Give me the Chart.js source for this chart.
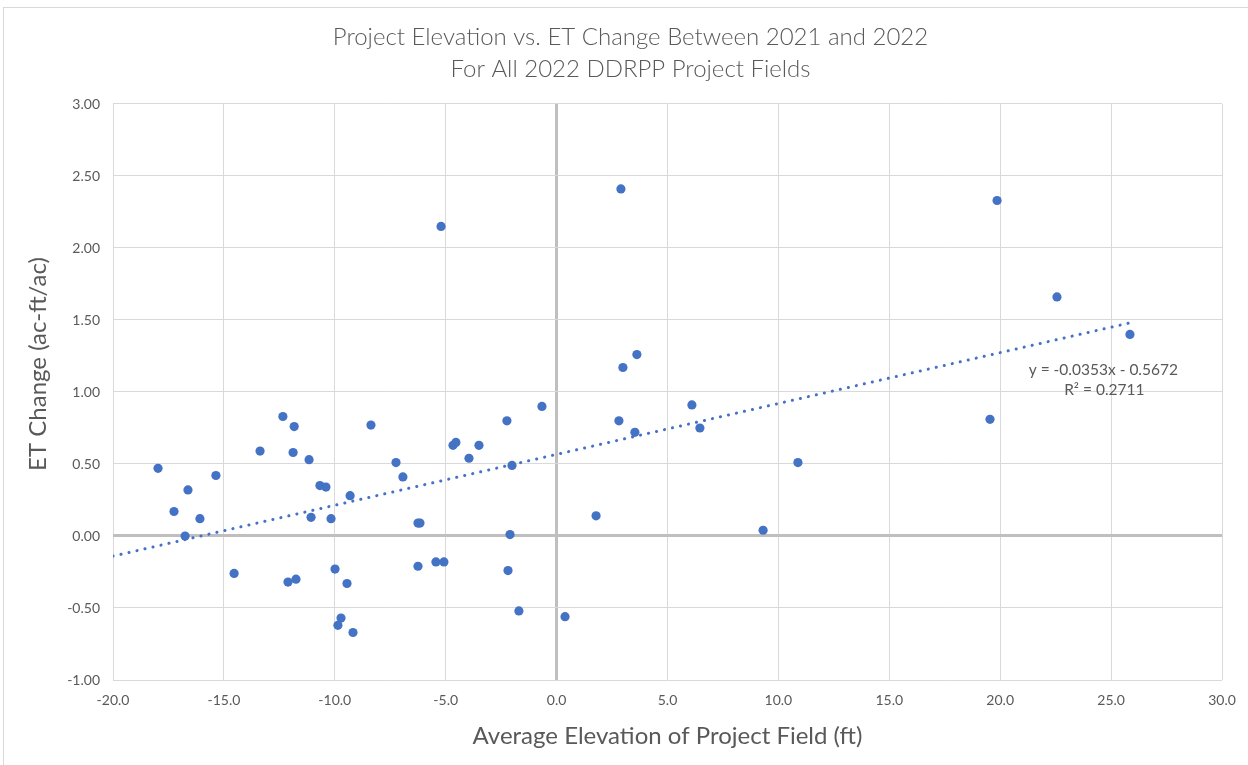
<!DOCTYPE html>
<html>
<head>
<meta charset="utf-8">
<script src="https://cdn.jsdelivr.net/npm/chart.js@4/dist/chart.umd.min.js"></script>
<style>
  html, body { margin: 0; padding: 0; background: #fff; overflow: hidden; }
  #frame { position: absolute; left: 3px; top: 7px; width: 1260px; height: 800px; border: 1px solid #d9d9d9; box-sizing: border-box; }
  #wrap { position: absolute; left: 0; top: 0; width: 1248px; height: 765px; }
</style>
</head>
<body>
<div id="frame"></div>
<div id="wrap"><canvas id="c" width="1248" height="765"></canvas></div>
<script>
const titleLines = ["Project Elevation vs. ET Change Between 2021 and 2022", "For All 2022 DDRPP Project Fields"];
const xAxisTitle = "Average Elevation of Project Field (ft)";
const yAxisTitle = "ET Change (ac-ft/ac)";

// Average elevation (ft)
const elevation = [
  -17.97, -17.25, -16.62, -16.75, -16.08, -15.36, -14.54, -13.37, -12.34, -12.11,
  -11.83, -11.88, -11.75, -11.16, -10.67, -10.40, -11.07, -10.17, -9.31, -9.99,
  -9.45, -9.72, -9.86, -9.18, -8.37, -7.24, -6.93, -6.25, -6.16, -6.25,
  -5.44, -5.08, -5.21, -4.67, -4.54, -3.95, -3.50, -2.24, -2.01, -2.10,
  -2.19, -1.70, -0.66, 0.38, 1.78, 2.90, 2.99, 3.62, 2.81, 3.53,
  6.10, 6.46, 9.31, 10.88, 19.54, 19.86, 22.56, 25.85
];
// ET change (ac-ft/ac)
const etChange = [
  0.47, 0.17, 0.32, 0.00, 0.12, 0.42, -0.26, 0.59, 0.83, -0.32,
  0.76, 0.58, -0.30, 0.53, 0.35, 0.34, 0.13, 0.12, 0.28, -0.23,
  -0.33, -0.57, -0.62, -0.67, 0.77, 0.51, 0.41, 0.09, 0.09, -0.21,
  -0.18, -0.18, 2.15, 0.63, 0.65, 0.54, 0.63, 0.80, 0.49, 0.01,
  -0.24, -0.52, 0.90, -0.56, 0.14, 2.41, 1.17, 1.26, 0.80, 0.72,
  0.91, 0.75, 0.04, 0.51, 0.81, 2.33, 1.66, 1.40
];
// Trendline endpoints as drawn
const trendX = [-20, 25.85];
const trendY = [-0.14, 1.48];
const trendLabel = ["y = -0.0353x - 0.5672", "R\u00b2 = 0.2711"];
const trendLabelAt = [24.65, 1.155];

const xTicks = [-20, -15, -10, -5, 0, 5, 10, 15, 20, 25, 30];
const yTicks = [-1.0, -0.5, 0.0, 0.5, 1.0, 1.5, 2.0, 2.5, 3.0];

const BLUE = '#4472C4';
const TEXT = '#595959';
const FONT = 'Lato, "Open Sans", sans-serif';

const scatterData = elevation.map((x, i) => ({ x: x, y: etChange[i] }));
const trendData = trendX.map((x, i) => ({ x: x, y: trendY[i] }));

const textPlugin = {
  id: 'extraText',
  afterDatasetsDraw(chart) {
    const { ctx, scales } = chart;
    const px = scales.x.getPixelForValue(trendLabelAt[0]);
    const py = scales.y.getPixelForValue(trendLabelAt[1]);
    ctx.save();
    ctx.fillStyle = TEXT;
    ctx.font = '15.5px ' + FONT;
    ctx.textAlign = 'center';
    ctx.textBaseline = 'middle';
    ctx.fillText(trendLabel[0], px, py);
    ctx.fillText(trendLabel[1], px + 1, py + 20);
    ctx.restore();
  },
  afterDraw(chart) {
    const { ctx } = chart;
    ctx.save();
    ctx.fillStyle = TEXT;
    ctx.font = '24px ' + FONT;
    ctx.textAlign = 'center';
    ctx.textBaseline = 'middle';
    ctx.translate(38, 364);
    ctx.rotate(-Math.PI / 2);
    ctx.fillText(yAxisTitle, 0, 0);
    ctx.restore();
  }
};

new Chart(document.getElementById('c'), {
  type: 'scatter',
  data: {
    datasets: [
      {
        label: 'Linear trend',
        type: 'line',
        data: trendData,
        borderColor: BLUE,
        borderWidth: 3,
        borderDash: [0.1, 8.1],
        borderCapStyle: 'round',
        pointRadius: 0,
        fill: false,
        tension: 0,
        order: 0
      },
      {
        label: 'Fields',
        data: scatterData,
        backgroundColor: BLUE,
        borderColor: BLUE,
        borderWidth: 0,
        pointRadius: 4.6,
        pointHoverRadius: 4.6,
        order: 1
      }
    ]
  },
  options: {
    responsive: false,
    animation: false,
    events: [],
    layout: { padding: { left: 39, right: 26, top: 0, bottom: 0 } },
    plugins: {
      legend: { display: false },
      tooltip: { enabled: false },
      title: {
        display: true,
        text: titleLines,
        color: TEXT,
        font: { family: FONT, size: 24, weight: '300', lineHeight: 1.3333 },
        padding: { top: 21, bottom: 19 }
      }
    },
    scales: {
      x: {
        type: 'linear',
        min: -20, max: 30,
        afterBuildTicks(s) { s.ticks = xTicks.map(v => ({ value: v })); },
        afterFit(s) { s.height = 85; },
        border: { display: false },
        grid: {
          drawTicks: false,
          color: ctx => ctx.tick && ctx.tick.value === 0 ? '#bfbfbf' : '#d9d9d9',
          lineWidth: ctx => ctx.tick && ctx.tick.value === 0 ? 3 : 1
        },
        ticks: {
          color: TEXT,
          font: { family: FONT, size: 14 },
          padding: 12,
          maxRotation: 0,
          callback: v => Number(v).toFixed(1)
        },
        title: {
          display: true,
          text: xAxisTitle,
          color: TEXT,
          font: { family: FONT, size: 24 },
          padding: { top: 0, bottom: 14 }
        }
      },
      y: {
        type: 'linear',
        min: -1, max: 3,
        afterBuildTicks(s) { s.ticks = yTicks.map(v => ({ value: v })); },
        afterFit(s) { s.width = 74; },
        border: { display: false },
        grid: {
          drawTicks: false,
          color: ctx => ctx.tick && ctx.tick.value === 0 ? '#bfbfbf' : '#d9d9d9',
          lineWidth: ctx => ctx.tick && ctx.tick.value === 0 ? 3 : 1
        },
        ticks: {
          color: TEXT,
          font: { family: FONT, size: 14 },
          padding: 13,
          callback: v => Number(v).toFixed(2)
        },
        title: { display: false }
      }
    }
  },
  plugins: [textPlugin]
});
</script>
</body>
</html>
